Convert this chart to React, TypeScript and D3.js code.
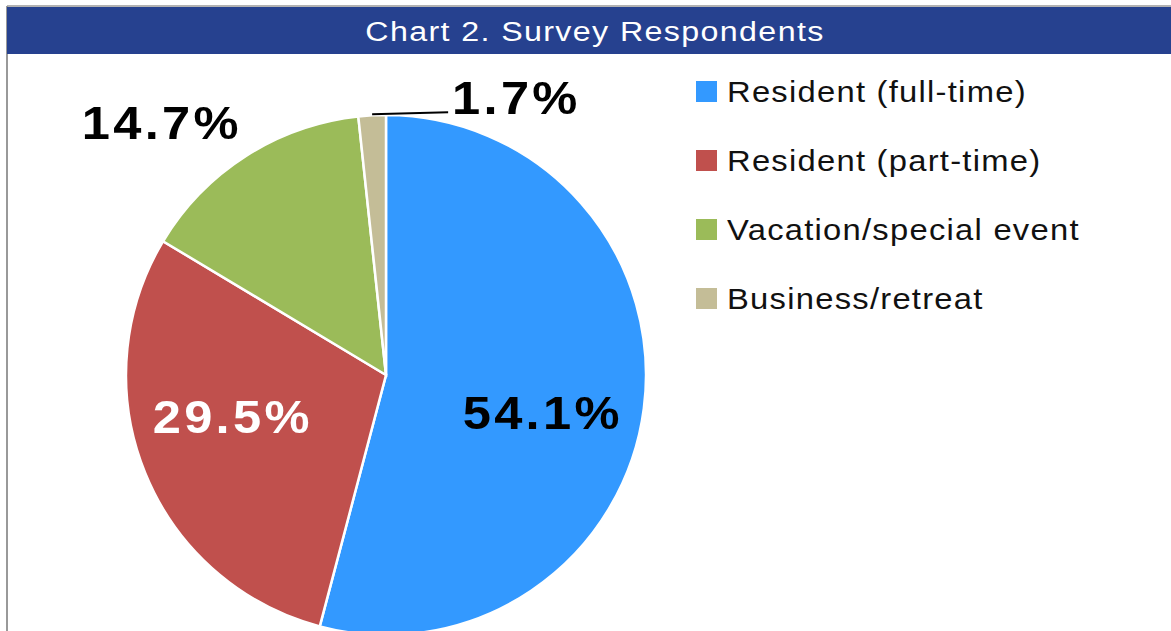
import React from "react";
import * as d3 from "d3";

const categories = ["Resident (full-time)", "Resident (part-time)", "Vacation/special event", "Business/retreat"];
const values = [54.1, 29.5, 14.7, 1.7];
const colors = ["#3399ff", "#c0504d", "#9bbb59", "#c4bd97"];
const labelTexts = ["54.1%", "29.5%", "14.7%", "1.7%"];
const title = "Chart 2. Survey Respondents";

const W = 1171;
const H = 631;
const cx = 386;
const cy = 375;
const R = 260;

const font = "'Liberation Sans', Arial, Helvetica, sans-serif";

function Label({ x, y, text, fill, anchor }: { x: number; y: number; text: string; fill: string; anchor: string }) {
  return (
    <g transform={`translate(${x},${y}) scale(1.1,1)`}>
      <text x={0} y={0} fontSize={46} fontWeight="bold" fontFamily={font} textAnchor={anchor} dominantBaseline="central" letterSpacing={3} fill={fill}>
        {text}
      </text>
    </g>
  );
}

export default function App() {
  const pie = d3.pie<number>().sort(null).value((d) => d)(values);
  const arc = d3.arc<d3.PieArcDatum<number>>().innerRadius(0).outerRadius(R);
  const ring = (f: number) => d3.arc<d3.PieArcDatum<number>>().innerRadius(R * f).outerRadius(R * f);

  const l0 = ring(0.6).centroid(pie[0]);
  const l1 = ring(0.62).centroid(pie[1]);
  const l2 = ring(1.13).centroid(pie[2]);
  const p3 = ring(1.0).centroid(pie[3]);

  return (
    <div style={{ position: "fixed", left: 0, top: 0, width: W, height: H, background: "#fff" }}>
      <svg width={W} height={H} style={{ display: "block" }}>
        <line x1={7} y1={6} x2={W} y2={6} stroke="#999" strokeWidth={1.5} />
        <line x1={7} y1={6} x2={7} y2={H} stroke="#999" strokeWidth={2} />
        <rect x={7} y={7} width={W - 7} height={47} fill="#26418f" />
        <g transform={`translate(595,31) scale(1.15,1)`}>
          <text x={0} y={0} fill="#fff" fontSize={28} fontFamily={font} textAnchor="middle" dominantBaseline="central" letterSpacing={1.2}>
            {title}
          </text>
        </g>
        <g transform={`translate(${cx},${cy})`}>
          {pie.map((p, i) => (
            <path key={i} d={arc(p) || ""} fill={colors[i]} stroke="#fff" strokeWidth={2.5} />
          ))}
          <Label x={l0[0] + 2} y={l0[1] + 18} text={labelTexts[0]} fill="#000" anchor="middle" />
          <Label x={l1[0] - 4} y={l1[1] - 19} text={labelTexts[1]} fill="#fff" anchor="middle" />
          <Label x={l2[0] - 66} y={l2[1] - 5} text={labelTexts[2]} fill="#000" anchor="middle" />
          <line x1={p3[0]} y1={p3[1] - 1} x2={p3[0] + 76} y2={p3[1] - 3} stroke="#000" strokeWidth={2} />
          <Label x={p3[0] + 80} y={p3[1] - 18} text={labelTexts[3]} fill="#000" anchor="start" />
        </g>
        {categories.map((c, i) => (
          <g key={c} transform={`translate(696,${81 + i * 69})`}>
            <rect x={0} y={0} width={21} height={21} fill={colors[i]} />
            <g transform={`translate(31,11) scale(1.13,1)`}>
              <text x={0} y={0} fontSize={29} fontFamily={font} dominantBaseline="central" letterSpacing={1.1} fill="#111">
                {c}
              </text>
            </g>
          </g>
        ))}
      </svg>
    </div>
  );
}
